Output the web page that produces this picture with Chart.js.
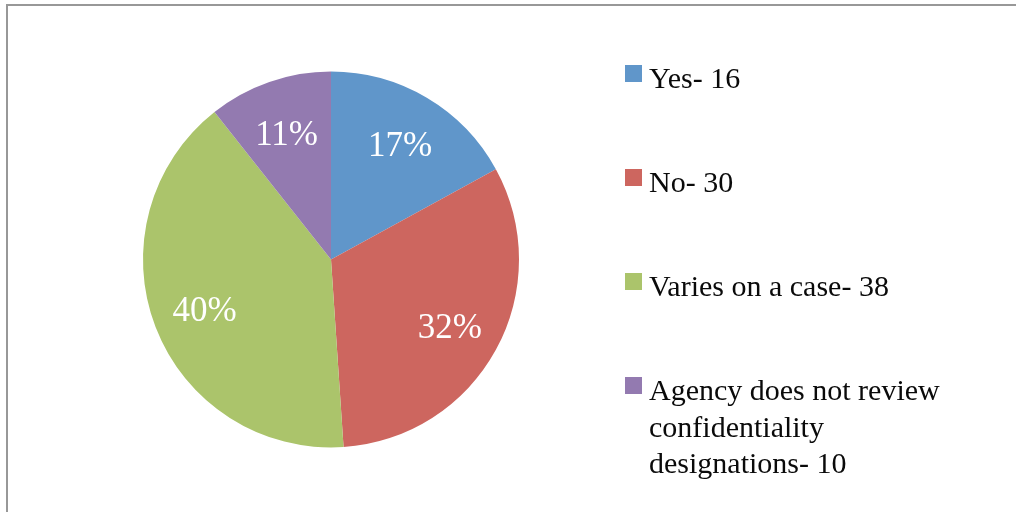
<!DOCTYPE html>
<html>
<head>
<meta charset="utf-8">
<script src="https://cdn.jsdelivr.net/npm/chart.js@4.4.1/dist/chart.umd.min.js"></script>
<style>
  html, body { margin: 0; padding: 0; background: #fff; }
  #wrap { position: relative; width: 1016px; height: 512px; overflow: hidden; }
  #frame { position: absolute; left: 6px; top: 4px; width: 1100px; height: 600px;
           border-top: 2px solid #989898; border-left: 2px solid #989898; pointer-events: none; }
  canvas { position: absolute; left: 0; top: 0; }
</style>
</head>
<body>
<div id="wrap">
  <canvas id="c" width="1016" height="512"></canvas>
  <div id="frame"></div>
</div>
<script>
const categories = ["Yes- 16", "No- 30", "Varies on a case- 38", "Agency does not review confidentiality designations- 10"];
const values = [16, 30, 38, 10];
const colors = ["#6096CA", "#CD665F", "#ABC46B", "#937AB0"];

const FONT = '"Liberation Serif", "Times New Roman", serif';

const sliceLabels = {
  id: 'sliceLabels',
  afterDatasetsDraw(chart) {
    const ctx = chart.ctx;
    const meta = chart.getDatasetMeta(0);
    const data = chart.data.datasets[0].data;
    const total = data.reduce((a, b) => a + b, 0);
    ctx.save();
    ctx.fillStyle = '#ffffff';
    ctx.font = '35px ' + FONT;
    ctx.textAlign = 'center';
    ctx.textBaseline = 'alphabetic';
    meta.data.forEach((arc, i) => {
      const p = arc.getProps(['x', 'y', 'startAngle', 'endAngle', 'outerRadius'], true);
      const mid = (p.startAngle + p.endAngle) / 2;
      const r = p.outerRadius * 0.72;
      const cx = p.x + Math.cos(mid) * r;
      const cy = p.y + Math.sin(mid) * r;
      const txt = Math.round(data[i] / total * 100) + '%';
      ctx.fillText(txt, cx, cy + 13);
    });
    ctx.restore();
  }
};

const sideLegend = {
  id: 'sideLegend',
  afterDraw(chart) {
    const ctx = chart.ctx;
    const labels = chart.data.labels;
    const bg = chart.data.datasets[0].backgroundColor;
    const boxX = 625, textX = 649, firstBase = 88, step = 104, lineH = 36.5, box = 17, maxW = 305;
    ctx.save();
    ctx.font = '30px ' + FONT;
    ctx.textAlign = 'left';
    ctx.textBaseline = 'alphabetic';
    labels.forEach((lab, i) => {
      const base = firstBase + i * step;
      ctx.fillStyle = bg[i];
      ctx.fillRect(boxX, base - 23, box, box);
      const words = lab.split(' ');
      const lines = [];
      let cur = '';
      words.forEach(w => {
        const t = cur ? cur + ' ' + w : w;
        if (ctx.measureText(t).width > maxW && cur) { lines.push(cur); cur = w; }
        else cur = t;
      });
      if (cur) lines.push(cur);
      ctx.fillStyle = '#0a0a0a';
      lines.forEach((ln, j) => ctx.fillText(ln, textX, base + j * lineH));
    });
    ctx.restore();
  }
};

new Chart(document.getElementById('c'), {
  type: 'pie',
  data: {
    labels: categories,
    datasets: [{
      data: values,
      backgroundColor: colors,
      borderWidth: 0,
      hoverOffset: 0
    }]
  },
  options: {
    responsive: false,
    animation: false,
    layout: { padding: { left: 143, right: 497, top: 71, bottom: 64 } },
    plugins: {
      legend: { display: false },
      tooltip: { enabled: false }
    }
  },
  plugins: [sliceLabels, sideLegend]
});
</script>
</body>
</html>
